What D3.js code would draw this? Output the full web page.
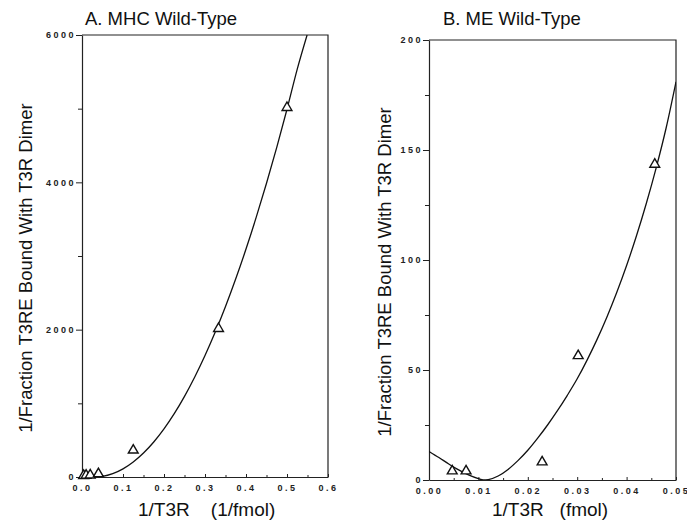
<!DOCTYPE html>
<html>
<head>
<meta charset="utf-8">
<script src="https://cdn.jsdelivr.net/npm/d3@7"></script>
<style>
  body { margin: 0; background: #fff; }
  svg { font-family: "Liberation Sans", Arial, sans-serif; }
  .tick text { font-size: 9px; font-weight: bold; letter-spacing: 2.5px; fill: #222; }
  .domain, .tick line { stroke: #222; }
</style>
</head>
<body>
<svg id="chart" width="687" height="523"></svg>
<script>
// panel A: MHC wild-type
var mhcX = [0.004, 0.01, 0.02, 0.04, 0.125, 0.333, 0.5];
var mhcY = [5, 8, 12, 30, 350, 2000, 5000];
var mhcCurveX = [0.03, 0.05, 0.075, 0.1, 0.125, 0.15, 0.175, 0.2, 0.225, 0.25, 0.275, 0.3, 0.325, 0.35, 0.375, 0.4, 0.425, 0.45, 0.475, 0.5, 0.525, 0.549];
var mhcCurveY = [0, 9, 46, 111, 204, 325, 475, 653, 859, 1094, 1357, 1648, 1967, 2314, 2690, 3094, 3527, 3987, 4475, 4992, 5537, 6000];
var mhcXTicks = [0, 0.1, 0.2, 0.3, 0.4, 0.5, 0.6];
var mhcYTicks = [0, 2000, 4000, 6000];

// panel B: ME wild-type
var meX = [0.0047, 0.0075, 0.0229, 0.0302, 0.0457];
var meY = [3.6, 3.6, 7.7, 56, 143];
var meCurveX = [0, 0.002, 0.004, 0.006, 0.008, 0.01, 0.011, 0.012, 0.014, 0.016, 0.018, 0.02, 0.022, 0.024, 0.026, 0.028, 0.03, 0.032, 0.034, 0.036, 0.038, 0.04, 0.042, 0.044, 0.046, 0.048, 0.05];
var meCurveY = [13, 10.2, 7.3, 4.6, 2.3, 0.6, 0, 0.2, 1.8, 4.8, 8.8, 13.5, 19, 25, 31.5, 38.5, 46, 54.5, 63.8, 74, 85.2, 97.5, 111, 125.8, 142, 160, 181];
var meXTicks = [0, 0.01, 0.02, 0.03, 0.04, 0.05];
var meYTicks = [0, 50, 100, 150, 200];

var svg = d3.select("#chart");

function drawPanel(opt){
	var g = svg.append("g");
	var x = d3.scaleLinear().domain(opt.xDomain).range([opt.left, opt.right]);
	var y = d3.scaleLinear().domain(opt.yDomain).range([opt.bottom, opt.top]);

	var clipId = "clip" + opt.id;
	g.append("clipPath").attr("id", clipId)
		.append("rect")
		.attr("x", opt.left).attr("y", opt.top)
		.attr("width", opt.right - opt.left).attr("height", opt.bottom - opt.top);

	// frame top + right
	g.append("path")
		.attr("d", "M" + opt.left + "," + opt.top + "H" + opt.right + "V" + opt.bottom)
		.attr("fill", "none").attr("stroke", "#222").attr("stroke-width", 1.2);

	// minor y ticks
	g.append("g")
		.attr("transform", "translate(" + opt.left + ",0)")
		.call(d3.axisLeft(y).tickValues(opt.yMinor).tickSize(4).tickFormat(""))
		.call(function(s){ s.select(".domain").remove(); });

	var yAxis = g.append("g")
		.attr("transform", "translate(" + opt.left + ",0)")
		.call(d3.axisLeft(y).tickValues(opt.yTicks).tickSize(6).tickSizeOuter(0).tickPadding(0).tickFormat(d3.format("d")));
	yAxis.select(".domain").attr("stroke-width", 1.2);

	var xAxis = g.append("g")
		.attr("transform", "translate(0," + opt.bottom + ")")
		.call(d3.axisBottom(x).tickValues(opt.xTicks).tickSize(-3).tickSizeOuter(0).tickPadding(8).tickFormat(opt.xFormat));
	xAxis.select(".domain").attr("stroke-width", 1.2);
	g.append("g")
		.attr("transform", "translate(0," + opt.bottom + ")")
		.call(d3.axisBottom(x).tickValues(opt.xMinor).tickSize(-2).tickFormat(""))
		.call(function(s){ s.select(".domain").remove(); });

	// fitted curve
	var line = d3.line().x(function(d){ return x(d[0]); }).y(function(d){ return y(d[1]); }).curve(d3.curveMonotoneX);
	g.append("path")
		.datum(d3.zip(opt.curveX, opt.curveY))
		.attr("clip-path", "url(#" + clipId + ")")
		.attr("d", line)
		.attr("fill", "none").attr("stroke", "#111").attr("stroke-width", 1.3);

	// data triangles
	var tri = d3.symbol().type(d3.symbolTriangle).size(42);
	g.selectAll("path.pt")
		.data(d3.zip(opt.ptX, opt.ptY))
		.enter().append("path")
		.attr("class", "pt")
		.attr("d", tri)
		.attr("transform", function(d){ return "translate(" + x(d[0]) + "," + (y(d[1]) - 1) + ")"; })
		.attr("fill", "#fff").attr("stroke", "#111").attr("stroke-width", 1.4);

	// texts
	g.append("text")
		.attr("x", opt.titleX).attr("y", 25)
		.attr("font-size", 18.5).attr("fill", "#111")
		.text(opt.title);
	g.append("text")
		.attr("x", opt.xLabelX).attr("y", 516)
		.attr("font-size", 19).attr("fill", "#111")
		.attr("xml:space", "preserve")
		.text(opt.xLabel);
	g.append("text")
		.attr("transform", "translate(" + opt.yLabelX + "," + ((opt.top + opt.bottom) / 2 + 12) + ") rotate(-90)")
		.attr("text-anchor", "middle")
		.attr("font-size", 18.5).attr("fill", "#111")
		.text("1/Fraction T3RE Bound With T3R Dimer");
}

drawPanel({
	id: "A", left: 82, right: 328, top: 35, bottom: 477,
	xDomain: [0, 0.6], yDomain: [0, 6000],
	xTicks: mhcXTicks, xMinor: [0.05, 0.15, 0.25, 0.35, 0.45, 0.55],
	yTicks: mhcYTicks, yMinor: [1000, 3000, 5000],
	xFormat: d3.format(".1f"),
	curveX: mhcCurveX, curveY: mhcCurveY, ptX: mhcX, ptY: mhcY,
	title: "A. MHC Wild-Type", titleX: 85,
	xLabel: "1/T3R    (1/fmol)", xLabelX: 138, yLabelX: 32
});

drawPanel({
	id: "B", left: 429, right: 676, top: 40, bottom: 480,
	xDomain: [0, 0.05], yDomain: [0, 200],
	xTicks: meXTicks, xMinor: [0.005, 0.015, 0.025, 0.035, 0.045],
	yTicks: meYTicks, yMinor: [25, 75, 125, 175],
	xFormat: d3.format(".2f"),
	curveX: meCurveX, curveY: meCurveY, ptX: meX, ptY: meY,
	title: "B. ME Wild-Type", titleX: 443,
	xLabel: "1/T3R   (fmol)", xLabelX: 492, yLabelX: 391
});
</script>
</body>
</html>
